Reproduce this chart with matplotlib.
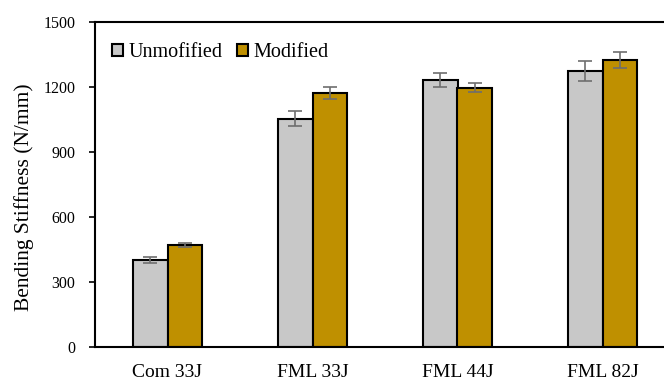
import matplotlib
matplotlib.use("Agg")
import matplotlib.pyplot as plt
import numpy as np

categories = ["Com 33J", "FML 33J", "FML 44J", "FML 82J"]
unmodified = [401, 1054, 1232, 1275]
unmodified_err = [15, 33, 33, 45]
modified = [470, 1174, 1197, 1325]
modified_err = [9, 28, 20, 38]
series_names = ["Unmofified", "Modified"]
yticks = [0, 300, 600, 900, 1200, 1500]

plt.rcParams["font.family"] = ["Liberation Serif", "DejaVu Serif"]

fig = plt.figure(figsize=(6.64, 3.80), dpi=100)
ax = fig.add_axes([95 / 664, 1 - 347 / 380, 580 / 664, 325 / 380])

x = np.arange(len(categories))
w = 0.238
err_kw = dict(ecolor="#6e6e6e", elinewidth=1.2, capsize=5, capthick=1.2)
ax.bar(x - w / 2, unmodified, w, yerr=unmodified_err, color="#c8c8c8",
       edgecolor="black", linewidth=1.5, label=series_names[0], error_kw=err_kw, zorder=2)
ax.bar(x + w / 2, modified, w, yerr=modified_err, color="#bf9000",
       edgecolor="black", linewidth=1.5, label=series_names[1], error_kw=err_kw, zorder=2)

ax.set_xlim(-0.5, 3.5)
ax.set_ylim(0, 1500)
ax.set_yticks(yticks)
ax.set_xticks(x)
ax.set_xticklabels(categories)
ax.tick_params(axis="x", length=0, pad=12, labelsize=14)
ax.tick_params(axis="y", length=4, width=1.2, direction="out", labelsize=11.5, pad=10)
ax.set_ylabel("Bending Stiffness (N/mm)", fontsize=15.5)
ax.yaxis.set_label_coords(-0.105, 0.4615)

for side in ["left", "bottom", "top"]:
    ax.spines[side].set_linewidth(1.5)
ax.spines["right"].set_visible(False)

leg = ax.legend(loc="upper left", frameon=False, ncol=2, handlelength=0.55,
                handleheight=0.55, handletextpad=0.25, columnspacing=0.75,
                bbox_to_anchor=(0.0, 0.988), borderaxespad=0.45, fontsize=14.5)

fig.savefig("out.png", dpi=100)
